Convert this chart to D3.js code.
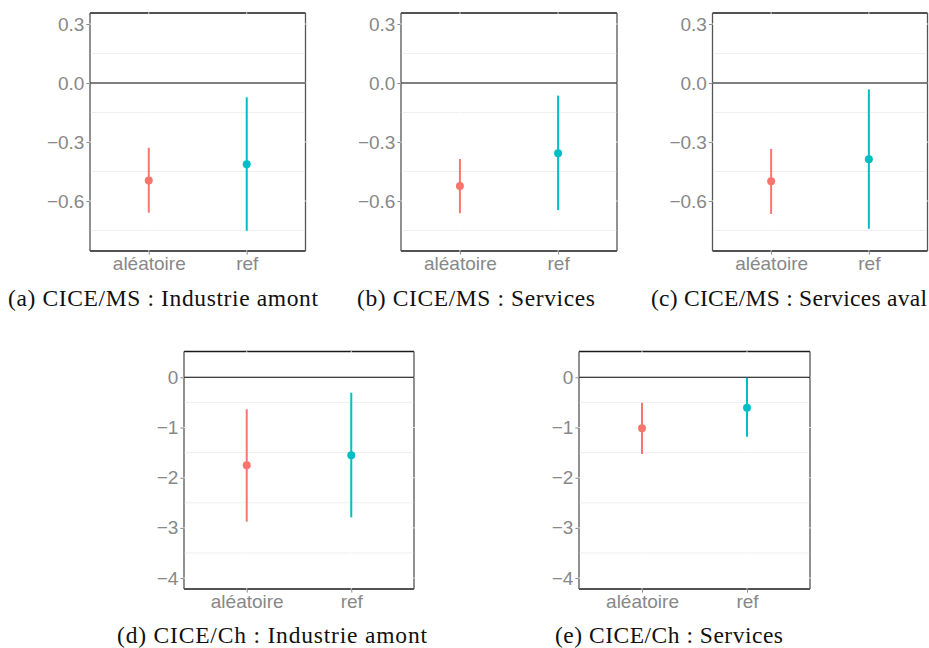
<!DOCTYPE html>
<html>
<head>
<meta charset="utf-8">
<script src="https://cdn.jsdelivr.net/npm/d3@7"></script>
<style>
  html, body { margin: 0; padding: 0; background: #fff; }
  svg { display: block; }
</style>
</head>
<body>
<svg id="chart" width="929" height="648"></svg>
<script>
// ---------- data ----------
const categories = ["aléatoire", "ref"];
const panelCaptions = [
  "(a) CICE/MS : Industrie amont",
  "(b) CICE/MS : Services",
  "(c) CICE/MS : Services aval",
  "(d) CICE/Ch : Industrie amont",
  "(e) CICE/Ch : Services"
];
const estimates = [
  [-0.495, -0.413],
  [-0.524, -0.357],
  [-0.500, -0.388],
  [-1.753, -1.554],
  [-1.016, -0.606]
];
const lowerBounds = [
  [-0.659, -0.751],
  [-0.662, -0.646],
  [-0.666, -0.741],
  [-2.876, -2.789],
  [-1.528, -1.183]
];
const upperBounds = [
  [-0.329, -0.073],
  [-0.386, -0.064],
  [-0.335, -0.032],
  [-0.637, -0.307],
  [-0.506, -0.008]
];
const topRowTicks = [0.3, 0.0, -0.3, -0.6];
const topRowMinor = [0.15, -0.15, -0.45, -0.75];
const bottomRowTicks = [0, -1, -2, -3, -4];
const bottomRowMinor = [0.5, -0.5, -1.5, -2.5, -3.5];
const seriesColors = ["#F8766D", "#00BFC4"];

// ---------- layout ----------
const topDomain = [-0.854, 0.356];
const bottomDomain = [-4.217, 0.514];
const panels = [
  {x0: 90,    x1: 305.5, y0: 13,    y1: 251, row: 0, cx: 163, cw: 310},
  {x0: 401,   x1: 617,   y0: 13,    y1: 251, row: 0, cx: 476, cw: 238},
  {x0: 712.5, x1: 927.5, y0: 13,    y1: 251, row: 0, cx: 789, cw: 276},
  {x0: 184,   x1: 414,   y0: 351.5, y1: 589, row: 1, cx: 272, cw: 310},
  {x0: 579,   x1: 810,   y0: 351.5, y1: 589, row: 1, cx: 669, cw: 228}
];

const svg = d3.select("#chart");

panels.forEach((p, i) => {
  const g = svg.append("g");
  const domain = p.row === 0 ? topDomain : bottomDomain;
  const ticks = p.row === 0 ? topRowTicks : bottomRowTicks;
  const minor = p.row === 0 ? topRowMinor : bottomRowMinor;
  const fmt = p.row === 0 ? d3.format(".1f") : d3.format(".0f");

  const y = d3.scaleLinear().domain(domain).range([p.y1, p.y0]);
  const x = d3.scalePoint().domain(categories).range([p.x0, p.x1]).padding(0.6);

  // panel border
  g.append("line").attr("x1", p.x0).attr("x2", p.x1).attr("y1", p.y0).attr("y2", p.y0)
    .attr("stroke", "#1a1a1a").attr("stroke-width", 1.3);
  g.append("line").attr("x1", p.x0).attr("x2", p.x1).attr("y1", p.y1).attr("y2", p.y1)
    .attr("stroke", "#1a1a1a").attr("stroke-width", 1.3);
  g.append("line").attr("x1", p.x0).attr("x2", p.x0).attr("y1", p.y0).attr("y2", p.y1)
    .attr("stroke", "#555").attr("stroke-width", 1.3);
  g.append("line").attr("x1", p.x1).attr("x2", p.x1).attr("y1", p.y0).attr("y2", p.y1)
    .attr("stroke", "#555").attr("stroke-width", 1.3);

  // minor grid
  g.selectAll(".minor").data(minor.filter(v => y(v) > p.y0 + 1)).enter().append("line")
    .attr("x1", p.x0 + 0.7).attr("x2", p.x1 - 0.7)
    .attr("y1", d => y(d)).attr("y2", d => y(d))
    .attr("stroke", "#efefef").attr("stroke-width", 1);

  // major grid (white, over border)
  g.selectAll(".majorh").data(ticks).enter().append("line")
    .attr("x1", p.x0 - 0.7).attr("x2", p.x1 + 0.7)
    .attr("y1", d => y(d)).attr("y2", d => y(d))
    .attr("stroke", "#ffffff").attr("stroke-width", 0.8);
  g.selectAll(".majorv").data(categories).enter().append("line")
    .attr("x1", d => x(d)).attr("x2", d => x(d))
    .attr("y1", p.y0 - 0.7).attr("y2", p.y1 + 0.7)
    .attr("stroke", "#ffffff").attr("stroke-width", 0.8);

  // zero line
  g.append("line").attr("x1", p.x0).attr("x2", p.x1)
    .attr("y1", y(0)).attr("y2", y(0))
    .attr("stroke", "#000").attr("stroke-width", 1.1);

  // y axis
  const ya = g.append("g").attr("transform", `translate(${p.x0 - 0.6},0)`)
    .call(d3.axisLeft(y).tickValues(ticks).tickFormat(fmt).tickSize(3).tickPadding(2));
  ya.select(".domain").remove();
  ya.selectAll(".tick line").attr("stroke", "#8a8a8a");
  ya.selectAll(".tick text").attr("fill", "#888888")
    .style("font-family", "'Liberation Sans', Arial, sans-serif").style("font-size", "19px");

  // x axis
  const xa = g.append("g").attr("transform", `translate(0,${p.y1 + 0.6})`)
    .call(d3.axisBottom(x).tickSize(3).tickPadding(2));
  xa.select(".domain").remove();
  xa.selectAll(".tick line").attr("stroke", "#8a8a8a");
  xa.selectAll(".tick text").attr("fill", "#888888")
    .style("font-family", "'Liberation Sans', Arial, sans-serif").style("font-size", "19px");

  // error bars
  g.selectAll(".err").data(categories).enter().append("line")
    .attr("x1", d => x(d)).attr("x2", d => x(d))
    .attr("y1", (d, j) => y(lowerBounds[i][j]))
    .attr("y2", (d, j) => y(upperBounds[i][j]))
    .attr("stroke", (d, j) => seriesColors[j]).attr("stroke-width", 2);
  g.selectAll(".pt").data(categories).enter().append("circle")
    .attr("cx", d => x(d))
    .attr("cy", (d, j) => y(estimates[i][j]))
    .attr("r", 4)
    .attr("fill", (d, j) => seriesColors[j]);

  // caption
  g.append("text")
    .attr("x", p.cx).attr("y", p.row === 0 ? 306 : 643)
    .attr("text-anchor", "middle")
    .attr("textLength", p.cw).attr("lengthAdjust", "spacing")
    .style("font-family", "'Liberation Serif', 'Times New Roman', serif")
    .style("font-size", "23.5px").attr("fill", "#111")
    .text(panelCaptions[i]);
});
</script>
</body>
</html>
